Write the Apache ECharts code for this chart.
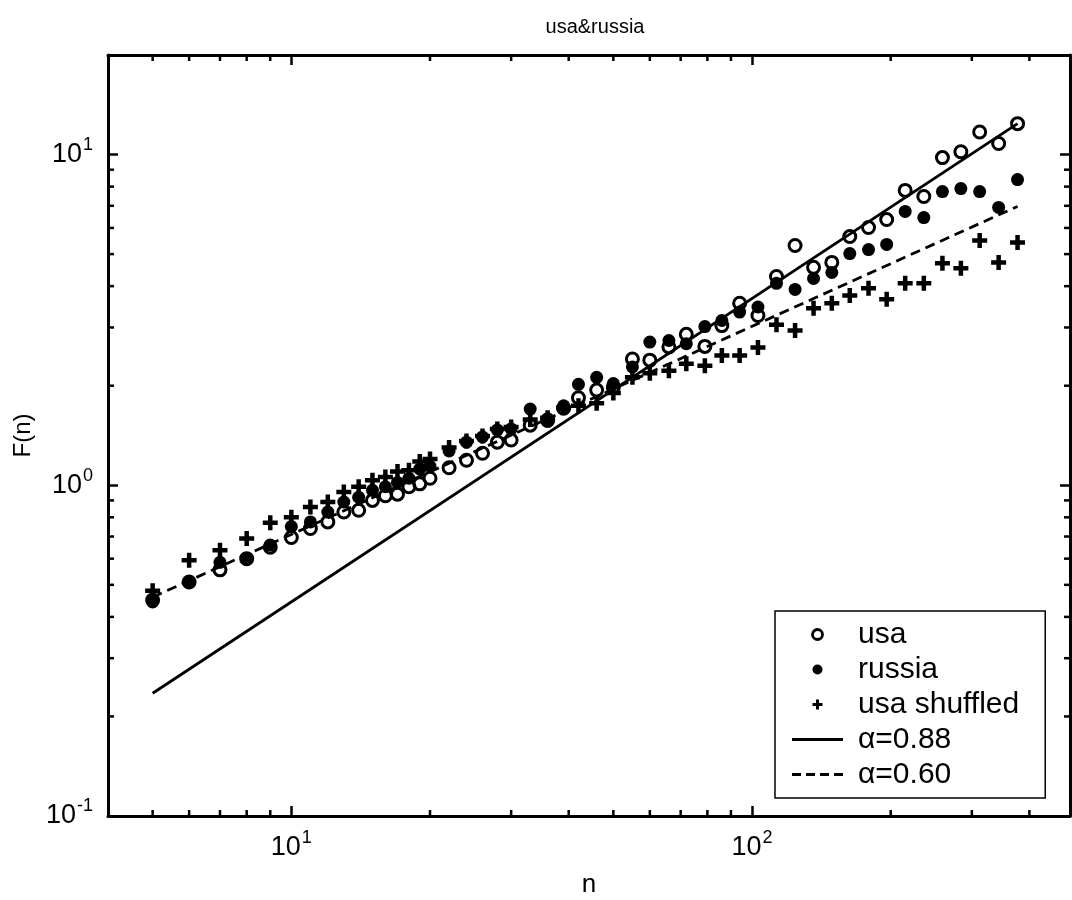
<!DOCTYPE html>
<html><head><meta charset="utf-8">
<script src="https://cdn.jsdelivr.net/npm/echarts@6/dist/echarts.min.js"></script>
<style>html,body{margin:0;padding:0;background:#fff}#c{width:1072px;height:900px}</style>
</head><body><div id="c"></div>
<script>
// ---- data ----
const nValues = [5,6,7,8,9,10,11,12,13,14,15,16,17,18,19,20,22,24,26,28,30,33,36,39,42,46,50,55,60,66,72,79,86,94,103,113,124,136,149,163,179,196,215,236,259,284,312,343,377];
const usa = [0.45,0.51,0.555,0.60,0.65,0.695,0.74,0.775,0.83,0.84,0.90,0.93,0.94,0.99,1.01,1.05,1.13,1.19,1.25,1.35,1.37,1.52,1.57,1.71,1.84,1.94,1.98,2.41,2.39,2.62,2.86,2.63,3.04,3.55,3.26,4.28,5.31,4.56,4.72,5.65,6.02,6.36,7.79,7.47,9.79,10.2,11.7,10.8,12.4];
const russia = [0.444,0.51,0.585,0.60,0.66,0.75,0.775,0.83,0.89,0.92,0.966,0.99,1.02,1.05,1.12,1.14,1.27,1.35,1.40,1.47,1.48,1.70,1.59,1.74,2.02,2.12,2.03,2.28,2.71,2.74,2.68,3.02,3.15,3.34,3.46,4.08,3.91,4.22,4.40,5.02,5.16,5.35,6.73,6.45,7.73,7.89,7.73,6.92,8.40];
const usaShuffled = [0.48,0.593,0.636,0.69,0.77,0.80,0.86,0.89,0.955,0.99,1.035,1.06,1.10,1.11,1.18,1.20,1.30,1.36,1.41,1.48,1.50,1.58,1.60,1.72,1.74,1.77,1.90,2.12,2.18,2.22,2.33,2.30,2.47,2.47,2.61,3.06,2.94,3.43,3.55,3.75,3.94,3.65,4.08,4.08,4.69,4.53,5.50,4.72,5.42];
const fitN = [5, 377];
const fit088 = [0.235, 12.4];
const fit060 = [0.459, 6.97];
const seriesNames = ['usa', 'russia', 'usa shuffled', '\u03b1=0.88', '\u03b1=0.60'];
const titleText = 'usa&russia';
const xName = 'n';
const yName = 'F(n)';
const xRange = [4, 490];
const yRange = [0.1, 20];
const xMinorTicks = [5,6,7,8,9,20,30,40,50,60,70,80,90,200,300,400];
const yMinorTicks = [0.2,0.3,0.4,0.5,0.6,0.7,0.8,0.9,2,3,4,5,6,7,8,9];

// ---- chart ----
const FONT = '"Liberation Sans", Arial, Helvetica, sans-serif';
const plusPath = 'path://M3.5,0H6.5V3.5H10V6.5H6.5V10H3.5V6.5H0V3.5H3.5Z';
const solidIcon = 'path://M0,0H51V3H0Z';
const dashIcon = 'path://M0,0H9V3H0ZM14,0H23V3H14ZM28,0H37V3H28ZM42,0H51V3H42Z';
const chart = echarts.init(document.getElementById('c'), null, {renderer: 'canvas'});

function powLabel(v) {
  const l = Math.log10(v);
  const e = Math.round(l);
  if (Math.abs(l - e) > 1e-6) return '';
  return '{b|10}{s|' + e + '}';
}
const labelRich = {
  b: {fontSize: 27, fontFamily: FONT, color: '#000'},
  s: {fontSize: 18, fontFamily: FONT, color: '#000', padding: [0, 0, 19, 1]}
};
const lineCol = '#000';
function axisBase(extra) {
  return Object.assign({
    type: 'log', logBase: 10,
    axisLine: {show: true, onZero: false, lineStyle: {color: lineCol, width: 3}},
    axisTick: {show: true, inside: true, length: 10, lineStyle: {color: lineCol, width: 2.5}},
    splitLine: {show: false},
    minorTick: {show: false}
  }, extra);
}

function minorTickSeries(values, dir) {
  return {
    type: 'custom', silent: true, clip: false, z: 6, animation: false,
    xAxisIndex: 0, yAxisIndex: 0,
    data: values.map(v => dir === 'x' ? [v, yRange[0]] : [xRange[0], v]),
    renderItem: function (params, api) {
      const st = {stroke: '#000', lineWidth: 2.5};
      if (dir === 'x') {
        const v = api.value(0);
        const p1 = api.coord([v, yRange[0]]);
        const p2 = api.coord([v, yRange[1]]);
        return {type: 'group', children: [
          {type: 'line', shape: {x1: p1[0], y1: p1[1], x2: p1[0], y2: p1[1] - 6}, style: st},
          {type: 'line', shape: {x1: p2[0], y1: p2[1], x2: p2[0], y2: p2[1] + 6}, style: st}
        ]};
      } else {
        const v = api.value(1);
        const p1 = api.coord([xRange[0], v]);
        const p2 = api.coord([xRange[1], v]);
        return {type: 'group', children: [
          {type: 'line', shape: {x1: p1[0], y1: p1[1], x2: p1[0] + 6, y2: p1[1]}, style: st},
          {type: 'line', shape: {x1: p2[0], y1: p2[1], x2: p2[0] - 6, y2: p2[1]}, style: st}
        ]};
      }
    }
  };
}

const option = {
  animation: false,
  backgroundColor: '#fff',
  title: {
    text: titleText, left: 590, top: 12, textAlign: 'center',
    textStyle: {fontSize: 20, fontWeight: 'normal', fontFamily: FONT, color: '#000'}
  },
  grid: {left: 108, right: 2, top: 55, bottom: 84, containLabel: false, outerBoundsMode: 'none'},
  xAxis: [
    axisBase({min: xRange[0], max: xRange[1], position: 'bottom',
      name: xName, nameLocation: 'middle', nameGap: 56,
      nameTextStyle: {fontSize: 26, fontFamily: FONT, color: '#000'},
      axisLabel: {show: true, margin: 13, formatter: powLabel, rich: labelRich, showMinLabel: true, showMaxLabel: true}}),
    axisBase({min: xRange[0], max: xRange[1], position: 'top', axisLabel: {show: false}})
  ],
  yAxis: [
    axisBase({min: yRange[0], max: yRange[1], position: 'left',
      name: yName, nameLocation: 'middle', nameGap: 67, nameRotate: 90,
      nameTextStyle: {fontSize: 24, fontFamily: FONT, color: '#000'},
      axisLabel: {show: true, margin: 15, formatter: powLabel, rich: labelRich, showMinLabel: true, showMaxLabel: true}}),
    axisBase({min: yRange[0], max: yRange[1], position: 'right', axisLabel: {show: false}})
  ],
  legend: {
    orient: 'vertical', left: 775, top: 611,
    padding: [6, 26, 6, 17], itemGap: 0, itemWidth: 51, itemHeight: 10,
    borderColor: '#000', borderWidth: 1.5, backgroundColor: '#fff', borderRadius: 0,
    textStyle: {fontSize: 30, fontFamily: FONT, color: '#000', padding: [0, 0, 0, 10], lineHeight: 35},
    selectedMode: false,
    data: [
      {name: seriesNames[0], icon: 'circle', itemStyle: {color: 'transparent', borderColor: '#000', borderWidth: 2.8, opacity: 1}},
      {name: seriesNames[1], icon: 'circle', itemStyle: {color: '#000', borderWidth: 0, opacity: 1}},
      {name: seriesNames[2], icon: plusPath, itemStyle: {color: '#000', borderWidth: 0, opacity: 1}},
      {name: seriesNames[3], icon: solidIcon, itemStyle: {color: '#000', borderWidth: 0, opacity: 1}},
      {name: seriesNames[4], icon: dashIcon, itemStyle: {color: '#000', borderWidth: 0, opacity: 1}}
    ]
  },
  series: [
    {name: seriesNames[3], type: 'line', symbol: 'none', z: 2, silent: true,
      data: fitN.map((n, i) => [n, fit088[i]]),
      itemStyle: {color: '#000'},
      lineStyle: {color: '#000', width: 2.8, type: 'solid'}},
    {name: seriesNames[4], type: 'line', symbol: 'none', z: 2, silent: true,
      data: fitN.map((n, i) => [n, fit060[i]]),
      itemStyle: {color: '#000'},
      lineStyle: {color: '#000', width: 2.8, type: [10, 6]}},
    {name: seriesNames[0], type: 'scatter', symbol: 'circle', symbolSize: 12, z: 3,
      data: nValues.map((n, i) => [n, usa[i]]),
      itemStyle: {color: 'transparent', borderColor: '#000', borderWidth: 3, opacity: 1}},
    {name: seriesNames[1], type: 'scatter', symbol: 'circle', symbolSize: 13, z: 4,
      data: nValues.map((n, i) => [n, russia[i]]),
      itemStyle: {color: '#000', opacity: 1}},
    {name: seriesNames[2], type: 'scatter', symbol: plusPath, symbolSize: 15, z: 5,
      data: nValues.map((n, i) => [n, usaShuffled[i]]),
      itemStyle: {color: '#000', opacity: 1}},
    minorTickSeries(xMinorTicks, 'x'),
    minorTickSeries(yMinorTicks, 'y')
  ]
};
chart.setOption(option);
</script>
</body></html>
